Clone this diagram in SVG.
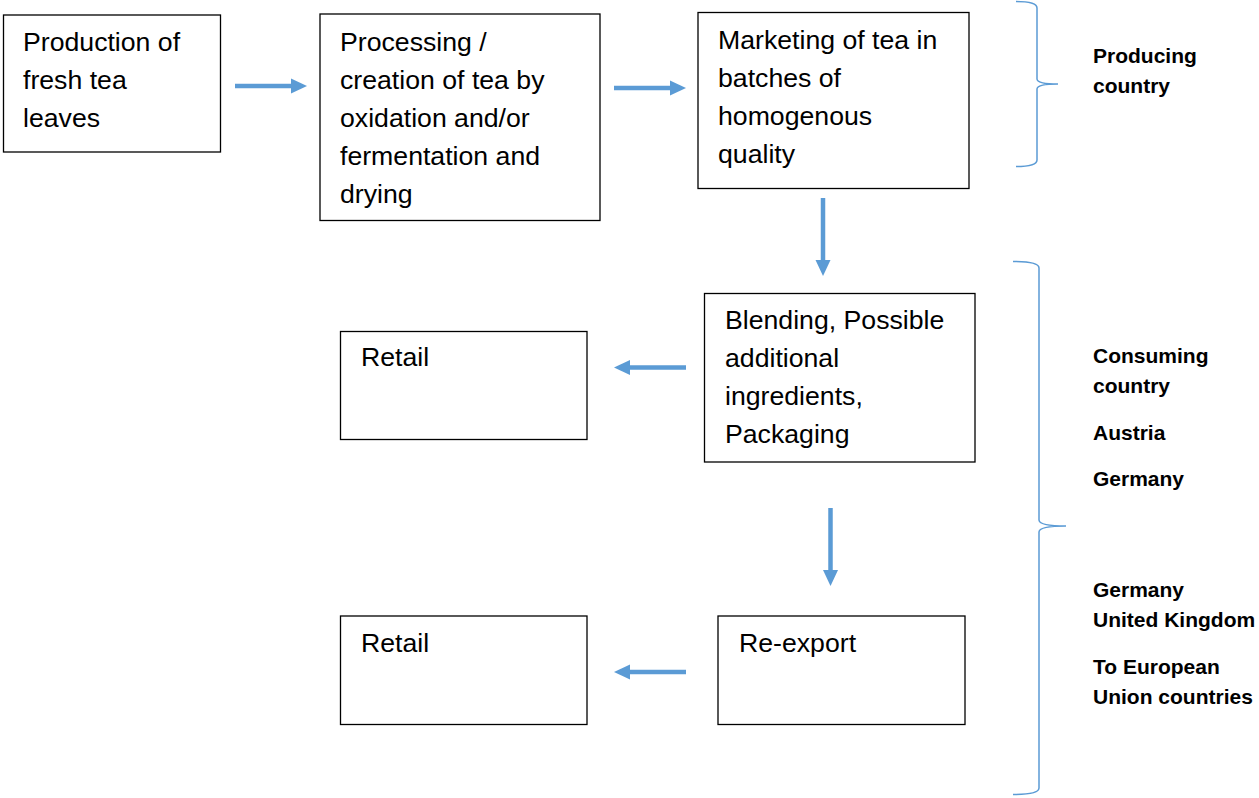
<svg xmlns="http://www.w3.org/2000/svg" width="1259" height="798" viewBox="0 0 1259 798">
  <style>
    .box { fill: #ffffff; stroke: #000000; stroke-width: 1.3; }
    .lbl { font-family: "Liberation Sans", Arial, sans-serif; font-size: 26.67px; fill: #000000; }
    .side { font-family: "Liberation Sans", Arial, sans-serif; font-size: 21px; font-weight: bold; fill: #000000; }
    .flow { stroke: #5B9BD5; stroke-width: 4.5; fill: none; }
    .head { fill: #5B9BD5; }
    .brace { stroke: #5B9BD5; stroke-width: 1.5; fill: none; }
  </style>
  <rect width="1259" height="798" fill="#ffffff"/>

  <!-- process steps -->
  <g id="node-production">
    <rect class="box" x="3.5" y="15" width="217" height="137"/>
    <text class="lbl" x="23" y="51">Production of</text>
    <text class="lbl" x="23" y="89">fresh tea</text>
    <text class="lbl" x="23" y="127">leaves</text>
  </g>
  <g id="node-processing">
    <rect class="box" x="320" y="14" width="280" height="206.5"/>
    <text class="lbl" x="340" y="51">Processing /</text>
    <text class="lbl" x="340" y="89">creation of tea by</text>
    <text class="lbl" x="340" y="127">oxidation and/or</text>
    <text class="lbl" x="340" y="165">fermentation and</text>
    <text class="lbl" x="340" y="203">drying</text>
  </g>
  <g id="node-marketing">
    <rect class="box" x="698" y="12.5" width="271" height="176"/>
    <text class="lbl" x="718" y="49">Marketing of tea in</text>
    <text class="lbl" x="718" y="87">batches of</text>
    <text class="lbl" x="718" y="125">homogenous</text>
    <text class="lbl" x="718" y="163">quality</text>
  </g>
  <g id="node-blending">
    <rect class="box" x="704.5" y="293.5" width="270.5" height="168.5"/>
    <text class="lbl" x="725" y="329">Blending, Possible</text>
    <text class="lbl" x="725" y="367">additional</text>
    <text class="lbl" x="725" y="405">ingredients,</text>
    <text class="lbl" x="725" y="443">Packaging</text>
  </g>
  <g id="node-retail-1">
    <rect class="box" x="340.5" y="331.5" width="246.5" height="108"/>
    <text class="lbl" x="361" y="366">Retail</text>
  </g>
  <g id="node-reexport">
    <rect class="box" x="718" y="616" width="247" height="108.5"/>
    <text class="lbl" x="739" y="652">Re-export</text>
  </g>
  <g id="node-retail-2">
    <rect class="box" x="340.5" y="616" width="246.5" height="108.5"/>
    <text class="lbl" x="361" y="652">Retail</text>
  </g>

  <!-- flow arrows -->
  <g id="connectors">
    <line class="flow" x1="235" y1="86" x2="292" y2="86"/>
    <polygon class="head" points="291,78.5 307,86 291,93.5"/>
    <line class="flow" x1="614" y1="88" x2="671" y2="88"/>
    <polygon class="head" points="670,80.5 686,88 670,95.5"/>
    <line class="flow" x1="823" y1="198" x2="823" y2="261"/>
    <polygon class="head" points="815.5,260 830.5,260 823,276"/>
    <line class="flow" x1="686" y1="367.5" x2="629" y2="367.5"/>
    <polygon class="head" points="630,360 614,367.5 630,375"/>
    <line class="flow" x1="830.5" y1="508" x2="830.5" y2="571"/>
    <polygon class="head" points="823,570 838,570 830.5,586"/>
    <line class="flow" x1="686" y1="672" x2="629" y2="672"/>
    <polygon class="head" points="630,664.5 614,672 630,679.5"/>
  </g>

  <!-- country braces -->
  <g id="brace-producing">
    <path class="brace" d="M1016,1.5 Q1037,1.5 1037,8 L1037,79 Q1037,84 1058,84 Q1037,84 1037,89 L1037,160 Q1037,166.5 1016,166.5"/>
    <text class="side" x="1093" y="63">Producing</text>
    <text class="side" x="1093" y="93">country</text>
  </g>
  <g id="brace-consuming">
    <path class="brace" d="M1013,261.5 Q1039,261.5 1039,268 L1039,520 Q1039,526 1066,526 Q1039,526 1039,532 L1039,788 Q1039,794.5 1013,794.5"/>
    <text class="side" x="1093" y="363">Consuming</text>
    <text class="side" x="1093" y="393">country</text>
    <text class="side" x="1093" y="440">Austria</text>
    <text class="side" x="1093" y="486">Germany</text>
    <text class="side" x="1093" y="597">Germany</text>
    <text class="side" x="1093" y="627">United Kingdom</text>
    <text class="side" x="1093" y="674">To European</text>
    <text class="side" x="1093" y="704">Union countries</text>
  </g>
</svg>
